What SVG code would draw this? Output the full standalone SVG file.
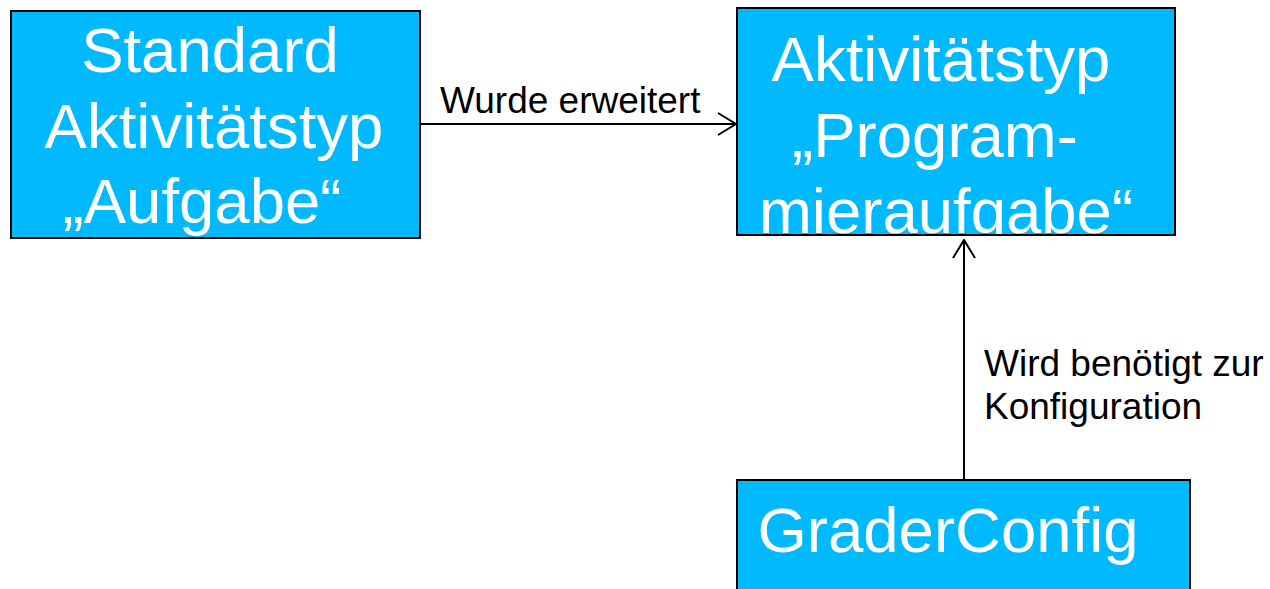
<svg xmlns="http://www.w3.org/2000/svg" width="1270" height="589" viewBox="0 0 1270 589">
  <style>
    .box { fill: #00B9FF; stroke: #000; stroke-width: 2; }
    .big { font-family: "Liberation Sans", Arial, sans-serif; font-size: 63.5px; fill: #fff; text-anchor: middle; }
    .lbl { font-family: "Liberation Sans", Arial, sans-serif; font-size: 37px; fill: #000; }
    .edge { fill: none; stroke: #000; stroke-width: 2; }
  </style>
  <defs>
    <marker id="open" viewBox="0 0 20 24" refX="19" refY="12" markerWidth="20" markerHeight="24" markerUnits="userSpaceOnUse" orient="auto">
      <path d="M1 1 L19 12 L1 23" fill="none" stroke="#000" stroke-width="2"/>
    </marker>
    <clipPath id="clipProg">
      <rect x="737" y="8" width="438" height="227"/>
    </clipPath>
  </defs>

  <g id="connectors">
    <line class="edge" x1="420" y1="124" x2="736" y2="124" marker-end="url(#open)"/>
    <text class="lbl" x="440" y="113">Wurde erweitert</text>
    <line class="edge" x1="964" y1="480" x2="964" y2="240" marker-end="url(#open)"/>
    <text class="lbl" x="984" y="376">Wird benötigt zur</text>
    <text class="lbl" x="984" y="419">Konfiguration</text>
  </g>

  <g id="node-standard">
    <rect class="box" x="11" y="11" width="409" height="227"/>
    <text class="big" x="210" y="72">Standard</text>
    <text class="big" x="214" y="148">Aktivitätstyp</text>
    <text class="big" x="202" y="223">„Aufgabe“</text>
  </g>

  <g id="node-programmieraufgabe">
    <rect class="box" x="737" y="8" width="438" height="227"/>
    <g clip-path="url(#clipProg)">
      <text class="big" x="941" y="81">Aktivitätstyp</text>
      <text class="big" x="935" y="157">„Program-</text>
      <text class="big" x="946" y="233">mieraufgabe“</text>
    </g>
    <rect x="737" y="8" width="438" height="227" fill="none" stroke="#000" stroke-width="2"/>
  </g>

  <g id="node-graderconfig">
    <rect class="box" x="737" y="480" width="453" height="120"/>
    <text class="big" x="948" y="552">GraderConfig</text>
  </g>
</svg>
